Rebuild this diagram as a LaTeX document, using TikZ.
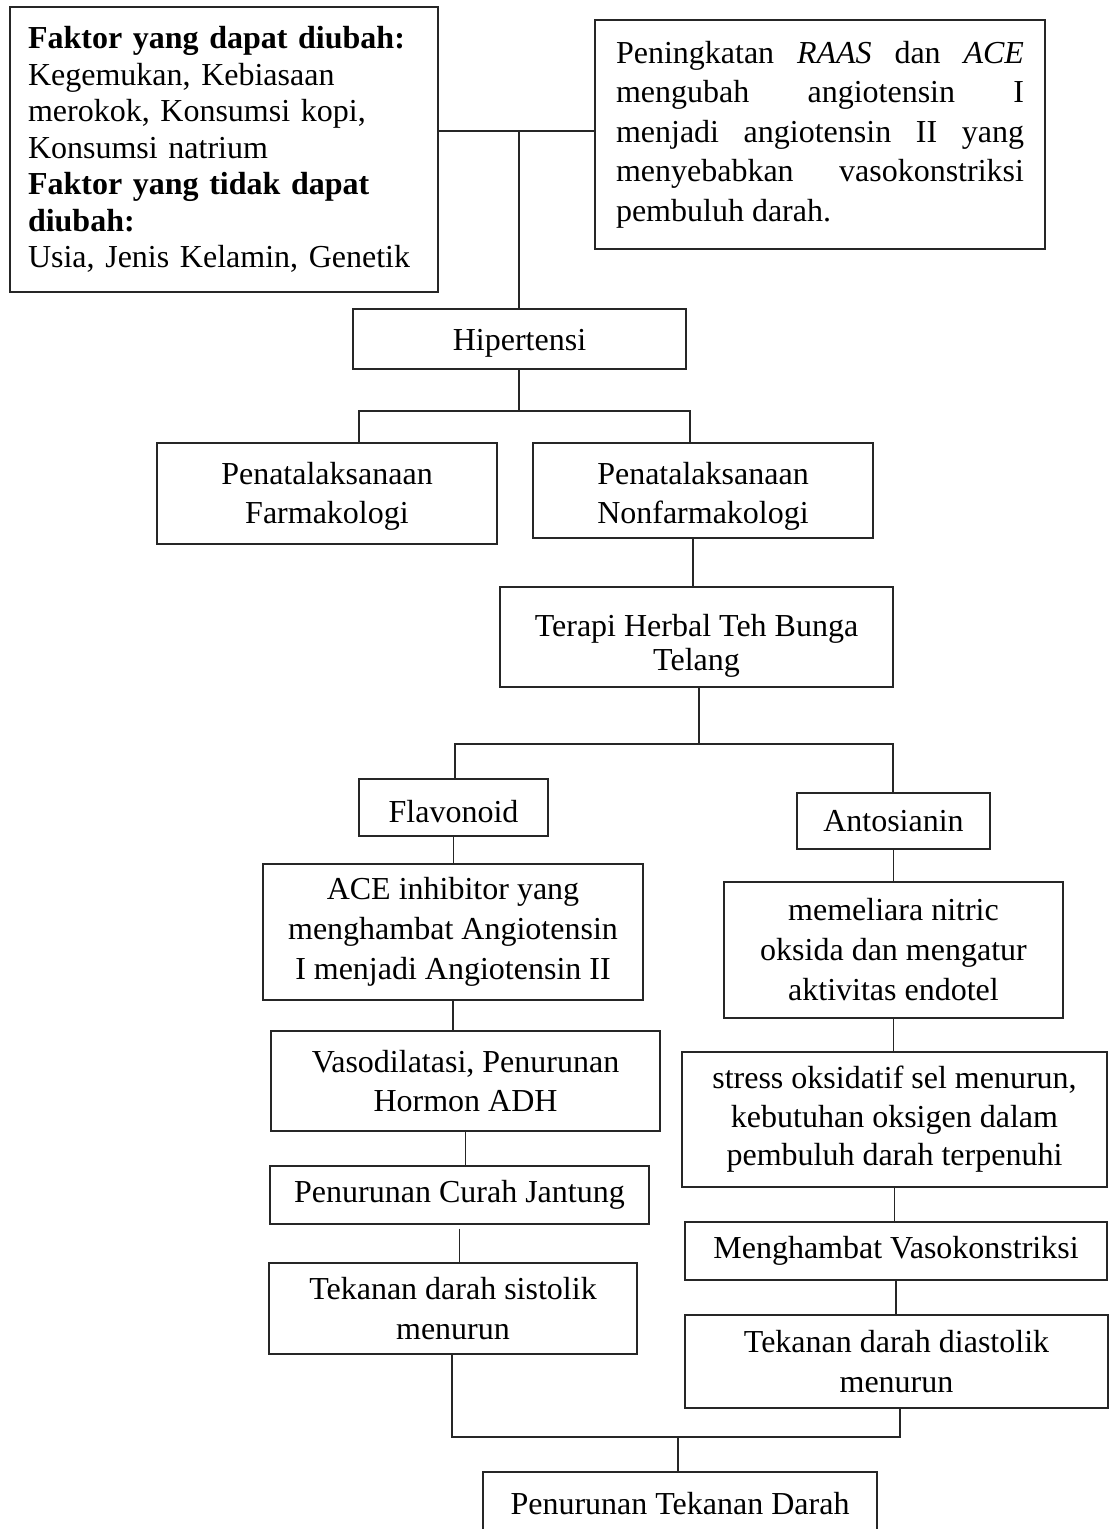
\documentclass[tikz,border=0pt]{standalone}
\usepackage{fontspec}
\setmainfont{Liberation Serif}
\newcommand{\lowr}[1]{\rule{0pt}{#1}}
\begin{document}
\begin{tikzpicture}[x=1pt,y=-1pt,
  box/.style={draw=black!85, line width=1.4pt, rectangle, inner sep=0pt, align=center,
    font=\fontsize{32}{39}\selectfont},
  conn/.style={draw=black!85, line width=1.3pt}]
\useasboundingbox (0,0) rectangle (1109,1529);

% top boxes
\node[box, align=left, text width=392pt, minimum height=285pt, inner xsep=18pt,
  font=\fontsize{32}{36.5}\selectfont] (f1) at (224,149.5)
 {\textbf{Faktor yang dapat diubah:}\\Kegemukan, Kebiasaan\\merokok, Konsumsi kopi,\\Konsumsi natrium\\\textbf{Faktor yang tidak dapat}\\\textbf{diubah:}\\Usia, Jenis Kelamin, Genetik};
\node[box, minimum width=450pt, minimum height=229pt] (f2) at (820,134.5)
 {\parbox{408pt}{\fontsize{32}{39.5}\selectfont Peningkatan \textit{RAAS} dan \textit{ACE}\linebreak mengubah angiotensin I\linebreak menjadi angiotensin II yang\linebreak menyebabkan vasokonstriksi\linebreak pembuluh darah.}};

\node[box, minimum width=333pt, minimum height=60pt] (hip) at (519.5,339) {\lowr{30pt}Hipertensi};
\node[box, minimum width=340pt, minimum height=101pt] (farm) at (327,493.5) {\lowr{28pt}Penatalaksanaan\\Farmakologi};
\node[box, minimum width=340pt, minimum height=95pt] (nonf) at (703,490.5) {\lowr{34pt}Penatalaksanaan\\Nonfarmakologi};
\node[box, minimum width=393pt, minimum height=100pt, font=\fontsize{32}{34}\selectfont] (terapi) at (696.5,637) {\lowr{40pt}Terapi Herbal Teh Bunga\\Telang};

\node[box, minimum width=189pt, minimum height=57pt] (flav) at (453.5,807.5) {\lowr{30pt}Flavonoid};
\node[box, minimum width=193pt, minimum height=56pt] (antos) at (893.5,821) {Antosianin};

\node[box, minimum width=380pt, minimum height=136pt, font=\fontsize{32}{40}\selectfont] (ace) at (453,932) {ACE inhibitor yang\\menghambat Angiotensin\\I menjadi Angiotensin II};
\node[box, minimum width=339pt, minimum height=136pt, font=\fontsize{32}{40}\selectfont] (mem) at (893.5,950) {memeliara nitric\\oksida dan mengatur\\aktivitas endotel};

\node[box, minimum width=389pt, minimum height=100pt] (vaso) at (465.5,1081) {Vasodilatasi, Penurunan\\Hormon ADH};
\node[box, minimum width=379pt, minimum height=58pt] (curah) at (459.5,1195) {Penurunan Curah Jantung};
\node[box, minimum width=368pt, minimum height=91pt, font=\fontsize{32}{40}\selectfont] (sist) at (453,1308.5) {Tekanan darah sistolik\\menurun};

\node[box, minimum width=425pt, minimum height=135pt, font=\fontsize{32}{38.5}\selectfont] (stress) at (894.5,1119.5) {stress oksidatif sel menurun,\\kebutuhan oksigen dalam\\pembuluh darah terpenuhi};
\node[box, minimum width=422pt, minimum height=58pt] (meng) at (896,1251) {Menghambat Vasokonstriksi};
\node[box, minimum width=423pt, minimum height=93pt, font=\fontsize{32}{40}\selectfont] (diast) at (896.5,1361.5) {Tekanan darah diastolik\\menurun};

\node[box, minimum width=394pt, minimum height=64pt] (bot) at (680,1504) {Penurunan Tekanan Darah};

% junction coordinates
\coordinate (j1) at (519,131);
\coordinate (j2l) at (359,411);
\coordinate (j2r) at (690,411);
\coordinate (j2) at (519,411);
\coordinate (nx) at (693,0);
\coordinate (j3) at (699,744);
\coordinate (j3l) at (455,744);
\coordinate (j3r) at (893,744);
\coordinate (j4) at (678,1437);
\coordinate (j4l) at (452,1437);
\coordinate (j4r) at (900,1437);

% connectors
\draw[conn] (f1.east |- j1) -- (f2.west |- j1);
\draw[conn] (j1) -- (j1 |- hip.north);
\draw[conn] (hip.south -| j2) -- (j2);
\draw[conn] (j2l |- farm.north) -- (j2l) -- (j2r) -- (j2r |- nonf.north);
\draw[conn] (nx |- nonf.south) -- (nx |- terapi.north);
\draw[conn] (j3 |- terapi.south) -- (j3);
\draw[conn] (j3l |- flav.north) -- (j3l) -- (j3r) -- (j3r |- antos.north);
\draw[conn] (flav.south) -- (flav.south |- ace.north);
\draw[conn] (antos.south) -- (antos.south |- mem.north);
\draw[conn] (ace.south) -- (ace.south |- vaso.north);
\draw[conn] (vaso.south) -- (vaso.south |- curah.north);
\draw[conn] ([yshift=-4pt]curah.south) -- (curah.south |- sist.north);
\draw[conn] (mem.south) -- (mem.south |- stress.north);
\draw[conn] (stress.south) -- (stress.south |- meng.north);
\draw[conn] (meng.south) -- (meng.south |- diast.north);
\draw[conn] (j4l |- sist.south) -- (j4l) -- (j4r) -- (j4r |- diast.south);
\draw[conn] (j4) -- (j4 |- bot.north);
\end{tikzpicture}
\end{document}
